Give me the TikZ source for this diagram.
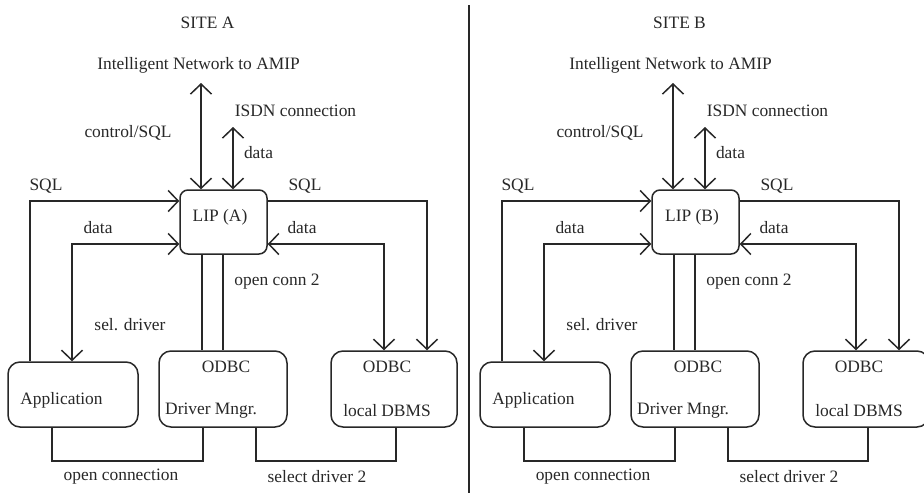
\documentclass[tikz,border=0pt]{standalone}
\usepackage{fontspec}
\setmainfont{Liberation Serif}
\usetikzlibrary{arrows.meta}
\definecolor{ink}{RGB}{40,40,40}
\tikzset{
  ln/.style={line width=1.5pt, draw=ink},
  barb/.tip={Straight Barb[length=10pt,width=21pt]},
  tipend/.style={ln, -barb},
  tipboth/.style={ln, barb-barb},
  lipbox/.style={draw=ink, line width=1.5pt, rounded corners=8pt, minimum width=87pt, minimum height=64pt, inner sep=0pt},
  bigbox/.style={draw=ink, line width=1.5pt, rounded corners=12pt, inner sep=0pt},
  lbl/.style={font=\fontsize{17.4}{20}\selectfont, text=ink, inner sep=0pt},
}
\newcommand\drawsite[2]{%
\begin{scope}[xshift=#2]
  \node[lbl] (site#1) at (207.5,23) {SITE #1};
  \node[lbl] (inet#1) at (198.5,65) {Intelligent Network to AMIP};
  \node[lbl] (isdn#1) at (295.5,111) {ISDN connection};
  \node[lbl] (ctrl#1) at (128,133) {control/SQL};
  \node[lbl] (datatop#1) at (258.5,153) {data};
  \node[lbl] (sqll#1) at (46,186) {SQL};
  \node[lbl] (datal#1) at (98,228) {data};
  \node[lbl] (sqlr#1) at (305,186) {SQL};
  \node[lbl] (datar#1) at (302,228) {data};
  \node[lbl] (oc2#1) at (277,282) {open conn 2};
  \node[lbl] (sel#1) at (130,325) {sel. driver};
  \node[lbl] (opc#1) at (121,477) {open connection};
  \node[lbl] (sd2#1) at (317,477) {select driver 2};
  % boxes
  \node[lipbox] (lip#1) at (223.5,222) {};
  \node[lbl] (liptext#1) at (220,217) {LIP (#1)};
  \node[bigbox, minimum width=130pt, minimum height=65pt] (app#1) at (73,394.5) {};
  \node[lbl] (apptext#1) at (61.5,400) {Application};
  \node[bigbox, minimum width=128pt, minimum height=76pt] (drv#1) at (223,389) {};
  \node[lbl] (drvodbc#1) at (226,367) {ODBC};
  \node[lbl, anchor=west] (drvtext#1) at (165,411) {Driver Mngr.};
  \node[bigbox, minimum width=126pt, minimum height=76pt] (dbms#1) at (394,389) {};
  \node[lbl] (dbmsodbc#1) at (387,367) {ODBC};
  \node[lbl] (dbmstext#1) at (387,411) {local DBMS};
  % free ends
  \coordinate (netend#1) at (201,83);
  \coordinate (isdnend#1) at (233,127);
  % connectors
  \draw[tipboth] (201,0 |- lip#1.north) -- (netend#1);
  \draw[tipboth] (233,0 |- lip#1.north) -- (isdnend#1);
  \draw[tipend] (30,0 |- app#1.north) |- (lip#1.west |- 0,201);
  \draw[tipboth] (72,0 |- app#1.north) |- (lip#1.west |- 0,244);
  \draw[tipend] (lip#1.east |- 0,201) -| (427,0 |- dbms#1.north);
  \draw[tipboth] (lip#1.east |- 0,244) -| (384,0 |- dbms#1.north);
  \draw[ln] (202,0 |- lip#1.south) -- (202,0 |- drv#1.north);
  \draw[ln] (223,0 |- lip#1.south) -- (223,0 |- drv#1.north);
  \draw[ln] (52,0 |- app#1.south) -- (52,461) -| (203,0 |- drv#1.south);
  \draw[ln] (256,0 |- drv#1.south) -- (256,461) -| (396,0 |- dbms#1.south);
\end{scope}}
\begin{document}
\begin{tikzpicture}[x=1pt,y=-1pt]
  \clip (0,0) rectangle (924,493);
  \fill[white] (0,0) rectangle (924,493);
  \drawsite{A}{0pt}
  \drawsite{B}{472pt}
  \coordinate (divtop) at (469,5);
  \coordinate (divbot) at (469,493);
  \draw[ln] (divtop) -- (divbot);
\end{tikzpicture}
\end{document}
